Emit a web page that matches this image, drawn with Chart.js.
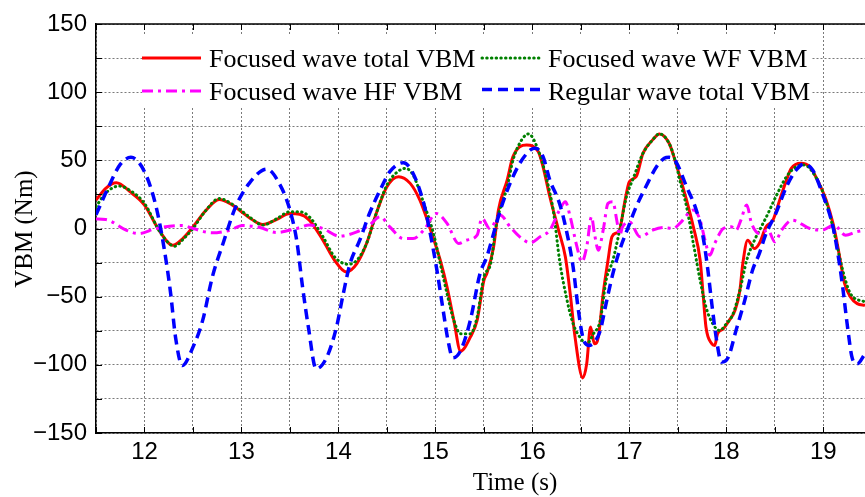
<!DOCTYPE html>
<html>
<head>
<meta charset="utf-8">
<title>VBM time history</title>
<script src="https://cdn.jsdelivr.net/npm/chart.js@4.4.1/dist/chart.umd.min.js"></script>
<style>
  html, body { margin: 0; padding: 0; background: #fff; }
  #wrap { position: relative; width: 865px; height: 497px; }
</style>
</head>
<body>
<div id="wrap"><canvas id="vbmChart"></canvas></div>
<script>
// axis ticks
const xTicks = [12, 13, 14, 15, 16, 17, 18, 19];
const yTicks = [-150, -100, -50, 0, 50, 100, 150];

// Focused wave total VBM
const tTotal = [11.5, 11.6, 11.71, 11.85, 12.0, 12.15, 12.29, 12.4, 12.5, 12.63, 12.77, 12.9, 13.0, 13.1, 13.22, 13.36, 13.5, 13.6, 13.7, 13.84, 13.96, 14.08, 14.19, 14.29, 14.39, 14.5, 14.62, 14.74, 14.84, 14.94, 15.05, 15.12, 15.19, 15.26, 15.36, 15.43, 15.5, 15.53, 15.6, 15.65, 15.74, 15.8, 15.94, 16.06, 16.11, 16.18, 16.27, 16.34, 16.39, 16.44, 16.52, 16.56, 16.6, 16.64, 16.68, 16.73, 16.78, 16.82, 16.87, 16.9, 16.95, 17.0, 17.07, 17.14, 17.24, 17.31, 17.41, 17.48, 17.59, 17.66, 17.73, 17.76, 17.79, 17.85, 17.88, 17.91, 17.97, 18.03, 18.09, 18.14, 18.17, 18.22, 18.29, 18.34, 18.41, 18.48, 18.55, 18.62, 18.67, 18.77, 18.86, 18.94, 19.03, 19.1, 19.15, 19.18, 19.22, 19.28, 19.35, 19.43];
const vTotal = [20.8, 29.5, 33.6, 27, 17.2, -1.2, -12.3, -7, 1.2, 13, 21.3, 17.5, 12.3, 7, 2.9, 6.5, 11, 10.5, 6.1, -8.6, -23.3, -31.9, -25.7, -11, 11, 30.6, 38, 33.1, 20.8, 1.2, -23.3, -42.9, -67.4, -90, -79.7, -67.4, -38, -33.1, -13.5, 13.5, 35.5, 52.7, 61.3, 56.4, 45.3, 23.3, -1.2, -20.8, -47.8, -79.7, -109.6, -99.3, -72.3, -84.6, -79.7, -47.8, -23.3, -6.1, -3.2, -1.2, 18.4, 34.3, 38, 55.1, 65, 69.4, 62.5, 47.8, 20.8, 1.2, -23.3, -47.8, -72.3, -84.6, -85.8, -77.2, -73.5, -67.4, -60, -45.3, -25.7, -8.6, -14.7, -11, 1.2, 6.1, 20.8, 35.5, 44.1, 47.8, 45.3, 35.5, 20.8, 3.7, -13.5, -25.7, -40.4, -50.2, -55.1, -56.4];

// Focused wave WF VBM
const tWF = [11.5, 11.6, 11.74, 11.87, 12.0, 12.17, 12.31, 12.41, 12.5, 12.63, 12.77, 12.9, 13.0, 13.1, 13.22, 13.36, 13.5, 13.6, 13.7, 13.84, 13.96, 14.1, 14.19, 14.29, 14.39, 14.5, 14.6, 14.69, 14.77, 14.88, 14.98, 15.05, 15.12, 15.19, 15.26, 15.36, 15.43, 15.5, 15.57, 15.63, 15.74, 15.8, 15.89, 15.96, 16.06, 16.15, 16.22, 16.28, 16.35, 16.42, 16.49, 16.56, 16.63, 16.7, 16.76, 16.83, 16.9, 16.97, 17.04, 17.14, 17.24, 17.31, 17.41, 17.48, 17.52, 17.59, 17.66, 17.73, 17.79, 17.86, 17.93, 18.0, 18.07, 18.14, 18.21, 18.29, 18.36, 18.43, 18.51, 18.62, 18.72, 18.8, 18.92, 19.03, 19.13, 19.2, 19.28, 19.43];
const vWF = [16, 26, 31.1, 27, 18.4, -3.7, -13, -7, 0, 13, 22, 18, 13, 7.5, 2.5, 7, 12.3, 12.3, 8.6, -6, -20.8, -26.2, -23.3, -11, 11, 31.9, 41, 44.1, 39.2, 18.4, -3.7, -25.7, -47.8, -67.4, -77.2, -77.2, -65, -35.5, -25.7, 3.7, 30.6, 50.2, 65, 69.4, 57.6, 35.5, 11, -23.3, -50.2, -69.9, -79.7, -84.6, -77.2, -67.4, -38, -23.3, -1.2, 23.3, 36.8, 55.1, 65, 69.4, 62.5, 47.8, 35.5, 16, -11, -38, -57.6, -69.9, -74.8, -69.9, -62.5, -45.3, -23.3, -8.6, 1.2, 11, 23.3, 38, 45.3, 46.6, 38, 19.6, -8.6, -30.6, -47.8, -53.9];

// Focused wave HF VBM
const tHF = [11.5, 11.6, 11.81, 11.94, 12.12, 12.39, 12.5, 12.7, 12.88, 13.01, 13.19, 13.36, 13.57, 13.7, 13.84, 14.01, 14.19, 14.32, 14.43, 14.53, 14.67, 14.77, 14.88, 15.01, 15.12, 15.24, 15.32, 15.43, 15.48, 15.56, 15.67, 15.77, 15.87, 15.98, 16.08, 16.18, 16.28, 16.34, 16.39, 16.46, 16.51, 16.56, 16.61, 16.64, 16.68, 16.73, 16.78, 16.83, 16.87, 16.9, 16.93, 17.0, 17.11, 17.24, 17.35, 17.45, 17.52, 17.66, 17.73, 17.78, 17.83, 17.88, 17.97, 18.05, 18.1, 18.15, 18.21, 18.26, 18.34, 18.43, 18.5, 18.57, 18.68, 18.86, 18.99, 19.11, 19.23, 19.34, 19.43];
const vHF = [6.9, 6.6, -1.2, -3.7, 0, 2.2, 0, -3.2, -1.2, 2.2, 0.7, -2.9, 0, 2.5, 0, -5.6, -2.5, 2.5, 8.6, 1.2, -7.4, -7.4, -1.2, 11, 3.7, -11, -8.6, -4.9, 7.4, 0, 9.8, 1.2, -6.1, -10.5, -6.1, -1.2, 13.5, 19.6, 8.6, -13.5, -24.5, -13.5, 8.6, -3.7, -15.9, -1.2, 18.4, 19.6, 6.1, -4.9, 1.2, 4.9, -6.1, -1.2, 0.7, 0, 3.7, 13.5, 6.1, -8.6, -19.6, -11, 0, 1.2, -1.2, 6.1, 17.2, 3.7, -3.7, -1.2, -9.8, -1.2, 6.1, 0, -1.2, 2.5, -4.9, -2.5, -1.2];

// Regular wave total VBM
const tRegular = [11.5, 11.63, 11.75, 11.86, 12.0, 12.12, 12.2, 12.27, 12.32, 12.39, 12.5, 12.6, 12.7, 12.81, 12.94, 13.08, 13.26, 13.39, 13.5, 13.57, 13.63, 13.69, 13.77, 13.88, 13.98, 14.05, 14.12, 14.22, 14.32, 14.43, 14.53, 14.67, 14.77, 14.88, 14.94, 15.01, 15.08, 15.13, 15.18, 15.26, 15.36, 15.46, 15.53, 15.6, 15.67, 15.77, 15.87, 15.98, 16.03, 16.11, 16.18, 16.28, 16.35, 16.42, 16.47, 16.52, 16.58, 16.64, 16.7, 16.76, 16.83, 16.9, 16.99, 17.07, 17.17, 17.28, 17.36, 17.41, 17.48, 17.59, 17.69, 17.76, 17.81, 17.85, 17.9, 17.95, 18.02, 18.1, 18.19, 18.27, 18.34, 18.41, 18.51, 18.62, 18.72, 18.8, 18.89, 18.99, 19.1, 19.15, 19.2, 19.25, 19.3, 19.35, 19.43];
const vRegular = [10, 30.6, 47, 52.2, 41.7, 15.9, -13.5, -47.8, -79.7, -100.5, -87, -67.4, -35.5, -11, 15.9, 33.1, 43.6, 33.1, 13.5, -9, -42.9, -72.3, -102.9, -94.4, -72.3, -47.8, -25.7, -8.6, 11, 28.2, 41.7, 48.3, 40.4, 18.4, -1.2, -28.2, -60, -82.1, -94.9, -89.5, -67.4, -33.1, -20.8, -3.7, 13.5, 33.1, 47.8, 57.6, 58.8, 52.7, 35.5, 18.4, -1.2, -28.2, -57.6, -79.7, -85.8, -83.3, -74.8, -55.1, -33.1, -15.9, 1.2, 15.9, 30.6, 45.3, 51.5, 52.2, 49, 30.6, 13.5, -6.1, -30.6, -55.1, -82.1, -98, -94.4, -74.8, -52.7, -30.6, -18.4, -3.7, 11, 30.6, 42.9, 47.3, 42.9, 25.7, 1.2, -18.4, -42.9, -72.3, -95.6, -99.3, -92];

const styles = {
  total:   { label: 'Focused wave total VBM', color: '#ff0000', width: 3,   dash: [],            cap: 'butt'  },
  wf:      { label: 'Focused wave WF VBM',    color: '#008000', width: 3,   dash: [0.5, 4.2],    cap: 'round' },
  hf:      { label: 'Focused wave HF VBM',    color: '#ff00ff', width: 3,   dash: [11, 5, 3, 5], cap: 'butt'  },
  regular: { label: 'Regular wave total VBM', color: '#0000ff', width: 3.5, dash: [10, 6],       cap: 'butt'  }
};

const toPoints = (ts, vs) => ts.map((t, i) => ({ x: t, y: vs[i] }));

function makeDataset(key, ts, vs, order) {
  const s = styles[key];
  return {
    label: s.label,
    data: toPoints(ts, vs),
    borderColor: s.color,
    borderWidth: s.width,
    borderDash: s.dash,
    borderCapStyle: s.cap,
    pointRadius: 0,
    fill: false,
    cubicInterpolationMode: 'monotone',
    order: order
  };
}

const isOn = (v, list) => list.some(t => Math.abs(t - v) < 1e-6);
const minus = v => (v < 0 ? '\u2212' + Math.abs(v) : String(v));

// frame, inward ticks, legend and axis titles
const decorPlugin = {
  id: 'decor',
  afterDatasetsDraw(chart) {
    const { ctx, chartArea: a, scales: { x, y } } = chart;
    ctx.save();
    ctx.strokeStyle = '#000';
    ctx.lineWidth = 1.5;
    ctx.beginPath();
    ctx.moveTo(a.left, a.top);
    ctx.lineTo(a.right, a.top);
    ctx.stroke();

    ctx.lineWidth = 1;
    ctx.beginPath();
    for (let t = 11.5; t <= x.max + 1e-6; t += 0.5) {
      const px = Math.round(x.getPixelForValue(t)) + 0.5;
      ctx.moveTo(px, a.bottom); ctx.lineTo(px, a.bottom - 6);
      ctx.moveTo(px, a.top); ctx.lineTo(px, a.top + 6);
    }
    for (let v = -150; v <= 150; v += 25) {
      const py = Math.round(y.getPixelForValue(v)) + 0.5;
      ctx.moveTo(a.left, py); ctx.lineTo(a.left + 6, py);
    }
    ctx.stroke();

    // legend
    ctx.fillStyle = '#fff';
    ctx.fillRect(142, 35, 669, 73);
    const entries = [
      ['total', 142, 58, 209, 67],
      ['wf', 482, 58, 548, 67],
      ['hf', 142, 91, 209, 100],
      ['regular', 482, 89.5, 548, 100]
    ];
    entries.forEach(([key, lx, ly, tx, ty]) => {
      const s = styles[key];
      ctx.save();
      ctx.strokeStyle = s.color;
      ctx.lineWidth = s.width;
      ctx.lineCap = s.cap;
      ctx.setLineDash(s.dash);
      ctx.beginPath();
      ctx.moveTo(lx, ly);
      ctx.lineTo(lx + 59, ly);
      ctx.stroke();
      ctx.restore();
      ctx.fillStyle = '#000';
      ctx.font = '26px "Liberation Serif", serif';
      ctx.textAlign = 'left';
      ctx.textBaseline = 'alphabetic';
      ctx.fillText(s.label, tx, ty);
    });

    // axis titles
    ctx.fillStyle = '#000';
    ctx.font = '25px "Liberation Serif", serif';
    ctx.textAlign = 'center';
    ctx.textBaseline = 'alphabetic';
    ctx.fillText('Time (s)', 515, 490);
    ctx.translate(32, 229);
    ctx.rotate(-Math.PI / 2);
    ctx.fillText('VBM (Nm)', 0, 0);
    ctx.restore();
  }
};

new Chart(document.getElementById('vbmChart'), {
  type: 'line',
  data: {
    datasets: [
      makeDataset('total', tTotal, vTotal, 4),
      makeDataset('wf', tWF, vWF, 3),
      makeDataset('hf', tHF, vHF, 2),
      makeDataset('regular', tRegular, vRegular, 1)
    ]
  },
  options: {
    responsive: true,
    maintainAspectRatio: false,
    animation: false,
    layout: { padding: { top: 24, right: 0, bottom: 0, left: 0 } },
    plugins: { legend: { display: false }, tooltip: { enabled: false } },
    scales: {
      x: {
        type: 'linear',
        min: 11.5,
        max: 19.43,
        afterFit: scale => { scale.height = 64; },
        grid: { color: '#7a7a7a', lineWidth: 1, drawTicks: false },
        border: { display: true, color: '#000', width: 1.5, dash: [2, 2] },
        ticks: {
          stepSize: 0.5,
          includeBounds: false,
          padding: 5,
          color: '#000',
          font: { family: '"Liberation Sans", Arial, sans-serif', size: 24 },
          maxRotation: 0,
          autoSkip: false,
          callback: v => (isOn(v, xTicks) ? String(Math.round(v)) : '')
        }
      },
      y: {
        min: -150,
        max: 150,
        afterFit: scale => { scale.width = 96; },
        grid: { color: '#7a7a7a', lineWidth: 1, drawTicks: false },
        border: { display: true, color: '#000', width: 1.5, dash: [2, 2] },
        ticks: {
          stepSize: 25,
          padding: 9,
          color: '#000',
          font: { family: '"Liberation Sans", Arial, sans-serif', size: 24 },
          autoSkip: false,
          callback: v => (isOn(v, yTicks) ? minus(v) : '')
        }
      }
    }
  },
  plugins: [decorPlugin]
});
</script>
</body>
</html>
